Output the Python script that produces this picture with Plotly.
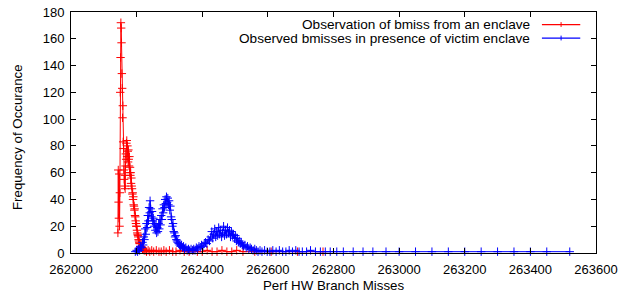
import plotly.graph_objects as go

# ---- Data ----
red_name = "Observation of bmiss from an enclave"
red_x = [262143, 262144, 262145, 262146, 262147, 262148, 262149, 262150, 262151, 262152,
         262153, 262154, 262155, 262156, 262157, 262158, 262159, 262160, 262161, 262162,
         262163, 262164, 262165, 262166, 262167, 262168, 262169, 262170, 262171, 262172,
         262173, 262174, 262175, 262176, 262177, 262178, 262179, 262180, 262181, 262182,
         262183, 262184, 262185, 262186, 262187, 262188, 262189, 262190, 262191, 262192,
         262193, 262194, 262195, 262196, 262197, 262198, 262199, 262200, 262201, 262202,
         262203, 262204, 262205, 262206, 262207, 262208, 262209, 262210, 262212, 262214,
         262216, 262218, 262220, 262223, 262226, 262230, 262235, 262240, 262246, 262252,
         262260, 262268, 262275, 262283, 262290, 262300, 262310, 262320, 262332, 262345,
         262360, 262372, 262385, 262400, 262415, 262430, 262445, 262460, 262475, 262490,
         262505, 262524, 262560, 262610, 262690, 262768]
red_y = [15, 62, 38, 26, 59, 20, 45, 120, 146, 172,
         168, 157, 134, 123, 101, 110, 83, 78, 62, 55,
         50, 58, 48, 65, 74, 70, 82, 84, 72, 80,
         76, 68, 77, 70, 65, 72, 60, 64, 58, 60,
         52, 56, 50, 48, 44, 45, 40, 42, 36, 35,
         32, 33, 28, 27, 24, 22, 20, 20, 17, 15,
         14, 13, 12, 10, 9, 8, 7, 7, 5, 4,
         4, 3, 3, 2, 2, 1, 2, 1, 2, 1,
         2, 1, 1, 2, 1, 2, 1, 1, 2, 1,
         1, 2, 1, 1, 2, 1, 1, 2, 1, 1,
         2, 1, 1, 1, 1, 1]

blue_name = "Observed bmisses in presence of victim enclave"
blue_x = [262196, 262200, 262203, 262206, 262209, 262212, 262215, 262218, 262220, 262222,
          262224, 262226, 262228, 262230, 262232, 262234, 262236, 262238, 262240, 262241,
          262243, 262245, 262247, 262249, 262251, 262253, 262255, 262257, 262259, 262261,
          262263, 262265, 262267, 262269, 262271, 262273, 262275, 262277, 262279, 262281,
          262283, 262285, 262287, 262289, 262291, 262293, 262295, 262297, 262299, 262301,
          262303, 262305, 262307, 262309, 262311, 262313, 262315, 262317, 262319, 262321,
          262323, 262325, 262328, 262331, 262334, 262337, 262340, 262343, 262346, 262350,
          262354, 262358, 262362, 262366, 262370, 262374, 262378, 262382, 262386, 262390,
          262394, 262398, 262402, 262406, 262410, 262414, 262418, 262422, 262426, 262429,
          262432, 262435, 262438, 262441, 262444, 262447, 262450, 262453, 262456, 262459,
          262462, 262465, 262468, 262471, 262474, 262477, 262480, 262483, 262486, 262489,
          262492, 262495, 262498, 262501, 262504, 262507, 262510, 262513, 262516, 262519,
          262522, 262526, 262530, 262534, 262538, 262542, 262546, 262550, 262555, 262560,
          262565, 262570, 262576, 262582, 262590, 262598, 262606, 262615, 262625, 262635,
          262645, 262655, 262665, 262675, 262685, 262695, 262705, 262718, 262730, 262745,
          262760, 262775, 262790, 262810, 262830, 262860, 262890, 262920, 262960, 263000,
          263050, 263100, 263150, 263200, 263250, 263300, 263350, 263400, 263450, 263520]
blue_y = [1, 2, 1, 3, 2, 5, 4, 8, 6, 12,
          10, 18, 14, 22, 19, 28, 24, 34, 30, 39,
          33, 27, 31, 24, 26, 20, 22, 17, 21, 15,
          19, 16, 22, 18, 25, 21, 28, 25, 33, 30,
          36, 34, 40, 37, 42, 38, 41, 36, 39, 32,
          35, 27, 25, 20, 22, 16, 15, 12, 13, 10,
          9, 8, 7, 6, 5, 6, 4, 5, 3, 4,
          2, 3, 2, 3, 2, 3, 2, 4, 3, 5,
          4, 6, 5, 7, 8, 7, 10, 9, 12, 16,
          11, 14, 18, 12, 16, 13, 19, 14, 17, 12,
          15, 20, 13, 17, 14, 19, 15, 17, 12, 16,
          13, 14, 11, 13, 9, 11, 8, 9, 7, 8,
          6, 5, 6, 4, 5, 3, 4, 3, 2, 3,
          2, 1, 2, 1, 2, 1, 1, 2, 1, 2,
          1, 1, 2, 1, 2, 1, 1, 1, 2, 1,
          1, 1, 1, 1, 1, 1, 1, 1, 1, 1,
          1, 1, 1, 1, 1, 1, 1, 1, 1, 1]

x_ticks = [262000, 262200, 262400, 262600, 262800, 263000, 263200, 263400, 263600]
y_ticks = [0, 20, 40, 60, 80, 100, 120, 140, 160, 180]
x_title = "Perf HW Branch Misses"
y_title = "Frequency of Occurance"

FONT = "Liberation Sans, Arial, Helvetica, sans-serif"

fig = go.Figure()
for xs, ys, col, nm in [(red_x, red_y, "#ff0000", red_name), (blue_x, blue_y, "#0000ff", blue_name)]:
    fig.add_trace(go.Scatter(
        x=xs, y=ys, mode="lines+markers", name=nm, showlegend=False,
        line=dict(color=col, width=1),
        marker=dict(symbol="cross-thin", size=6, line=dict(color=col, width=1), color=col),
        cliponaxis=False,
    ))

# gnuplot-style legend (text right-aligned, sample to the right)
legend_rows = [(red_name, "#ff0000", 0.948), (blue_name, "#0000ff", 0.892)]
for name, col, yy in legend_rows:
    fig.add_annotation(x=0.878, y=yy, xref="paper", yref="paper", text=name,
                       showarrow=False, xanchor="right", yanchor="middle",
                       font=dict(family=FONT, size=13.6, color="black"))
    fig.add_shape(type="line", xref="paper", yref="paper", x0=0.897, x1=0.970, y0=yy, y1=yy,
                  line=dict(color=col, width=1.2))
    fig.add_shape(type="line", xref="paper", yref="paper", x0=0.9335, x1=0.9335,
                  y0=yy - 0.010, y1=yy + 0.010, line=dict(color=col, width=1))

# axis titles placed like gnuplot
fig.add_annotation(x=0.5, y=-0.133, xref="paper", yref="paper", text=x_title, showarrow=False,
                   xanchor="center", yanchor="middle", font=dict(family=FONT, size=13.3, color="black"))
fig.add_annotation(x=-0.103, y=0.481, xref="paper", yref="paper", text=y_title, showarrow=False,
                   textangle=-90, xanchor="center", yanchor="middle",
                   font=dict(family=FONT, size=13.3, color="black"))

axis_common = dict(showline=True, linecolor="black", linewidth=1, mirror="ticks",
                   ticks="inside", ticklen=5, tickcolor="black", showgrid=False,
                   zeroline=False, automargin=False,
                   tickfont=dict(family=FONT, size=13, color="black"))

fig.update_layout(
    width=622, height=297,
    margin=dict(l=71, r=26, t=12, b=44),
    paper_bgcolor="white", plot_bgcolor="white",
    font=dict(family=FONT, size=13, color="black"),
    hovermode=False,
    xaxis=dict(range=[262000, 263600], tickvals=x_ticks, ticktext=[str(v) for v in x_ticks],
               ticklabelstandoff=4, **axis_common),
    yaxis=dict(range=[0, 180], tickvals=y_ticks, ticktext=[str(v) for v in y_ticks],
               ticklabelstandoff=3, **axis_common),
)

fig.write_html("out.html", config={"displayModeBar": False, "staticPlot": True},
               post_script="document.body.style.margin='0';document.body.style.padding='0';")
